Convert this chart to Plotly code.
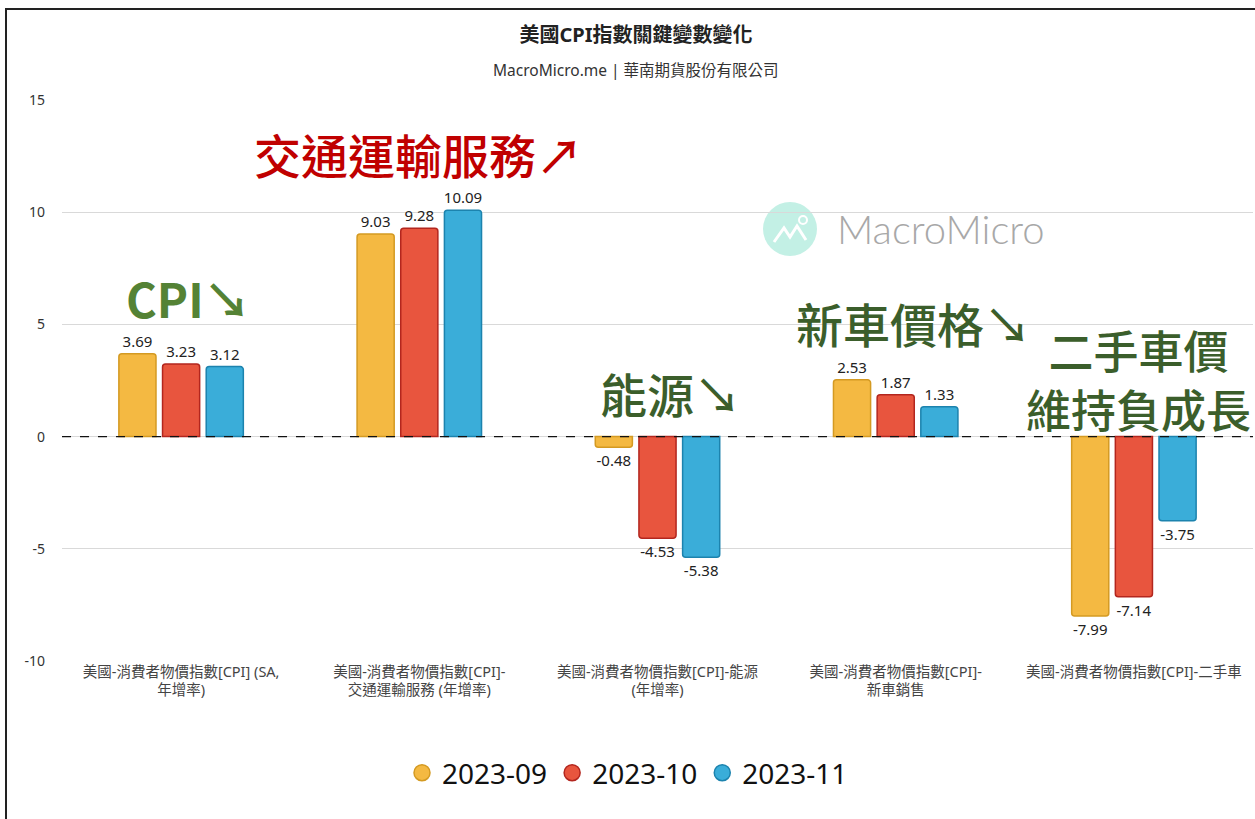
import plotly.graph_objects as go

categories = [
    "美國-消費者物價指數[CPI] (SA,<br>年增率)",
    "美國-消費者物價指數[CPI]-<br>交通運輸服務 (年增率)",
    "美國-消費者物價指數[CPI]-能源<br>(年增率)",
    "美國-消費者物價指數[CPI]-<br>新車銷售",
    "美國-消費者物價指數[CPI]-二手車",
]
series_names = ["2023-09", "2023-10", "2023-11"]
v_2023_09 = [3.69, 9.03, -0.48, 2.53, -7.99]
v_2023_10 = [3.23, 9.28, -4.53, 1.87, -7.14]
v_2023_11 = [3.12, 10.09, -5.38, 1.33, -3.75]
y_ticks = [-10, -5, 0, 5, 10, 15]
y_tick_labels = ["-10", "-5", "0", "5", "10", "15"]

fills = ["#F4B942", "#E8553E", "#3AADD9"]
edges = ["#D49A22", "#B3261E", "#1C83AE"]

W, H = 1255, 819
ML, MR, MT, MB = 62, 2, 100, 158
PW, PH = W - ML - MR, H - MT - MB

def px2paper_x(px):
    return (px - ML) / PW

def px2paper_y(py):
    return (H - MB - py) / PH

FONT = "Noto Sans, Noto Sans CJK TC, sans-serif"
CJK = "Noto Sans CJK TC, Noto Sans, sans-serif"

fig = go.Figure()
xs = list(range(len(categories)))
for name, vals, fc, ec in zip(series_names, [v_2023_09, v_2023_10, v_2023_11], fills, edges):
    fig.add_trace(go.Bar(
        x=xs, y=vals, name=name, showlegend=False,
        marker=dict(color=fc, line=dict(color=ec, width=1.5)),
        text=[f"{v:.2f}" for v in vals], textposition="outside",
        textfont=dict(size=15, color="#222", family=FONT),
        constraintext="none", cliponaxis=False,
    ))
for name, fc, ec in zip(series_names, fills, edges):
    fig.add_trace(go.Scatter(
        x=[None], y=[None], mode="markers", name=name,
        marker=dict(symbol="circle", size=24, color=fc, line=dict(color=ec, width=1.5)),
    ))

shapes = [
    dict(type="line", xref="paper", yref="y", x0=0, x1=1, y0=0, y1=0,
         line=dict(color="#111", width=1.2, dash="dash"), layer="above"),
    dict(type="rect", xref="paper", yref="paper",
         x0=px2paper_x(6), x1=px2paper_x(W + 20), y0=px2paper_y(H + 20), y1=px2paper_y(9),
         line=dict(color="#222", width=2), layer="above"),
    dict(type="circle", xref="paper", yref="paper",
         x0=px2paper_x(763), x1=px2paper_x(817), y0=px2paper_y(256), y1=px2paper_y(202),
         fillcolor="#C3F0E5", line=dict(width=0), layer="below"),
    dict(type="path", xref="paper", yref="paper",
         path="M {} {} L {} {} L {} {} L {} {} L {} {}".format(
             px2paper_x(774), px2paper_y(242), px2paper_x(784), px2paper_y(228),
             px2paper_x(790), px2paper_y(237), px2paper_x(797), px2paper_y(226),
             px2paper_x(806), px2paper_y(240)),
         line=dict(color="white", width=3), layer="below"),
    dict(type="circle", xref="paper", yref="paper",
         x0=px2paper_x(799), x1=px2paper_x(807), y0=px2paper_y(224), y1=px2paper_y(216),
         line=dict(color="white", width=2), layer="below"),
]

def ann(text, px, py, size, color, family=CJK, weight="normal"):
    return dict(text=text, xref="paper", yref="paper",
                x=px2paper_x(px), y=px2paper_y(py), xanchor="center", yanchor="middle",
                align="center", showarrow=False,
                font=dict(size=size, color=color, family=family, weight=weight))

annotations = [
    ann("MacroMicro.me | 華南期貨股份有限公司", 636, 70, 15.5, "#333", FONT),
    ann("MacroMicro", 941, 229, 40, "#A8A8A8", "Lato", 300),
    ann("CPI↘", 188, 297, 47, "#548235", CJK, "bold"),
    ann("交通運輸服務↗", 418, 153, 47, "#C00000", CJK, 500),
    ann("能源↘", 670, 393, 47, "#3B5E2B", CJK, 500),
    ann("新車價格↘", 913, 322, 47, "#3B5E2B", CJK, 500),
    ann("二手車價<br>維持負成長", 1138, 379, 45, "#3B5E2B", CJK, 500),
]

fig.update_layout(
    width=W, height=H,
    margin=dict(l=ML, r=MR, t=MT, b=MB),
    paper_bgcolor="white", plot_bgcolor="white",
    title=dict(text="<b>美國CPI指數關鍵變數變化</b>", x=636 / W, xanchor="center",
               y=1 - 35 / H, yanchor="middle", xref="container", yref="container",
               font=dict(size=20, color="#222", family=FONT)),
    barmode="group", bargap=0.45, bargroupgap=0.15, barcornerradius=3,
    font=dict(family=FONT, color="#333"),
    xaxis=dict(tickmode="array", tickvals=xs, ticktext=categories,
               range=[-0.5, len(categories) - 0.5],
               showgrid=False, zeroline=False, showline=False,
               tickfont=dict(size=14.5, color="#444", family=FONT), ticks=""),
    yaxis=dict(range=[-10, 15], tickmode="array", tickvals=y_ticks, ticktext=y_tick_labels,
               showgrid=True, gridcolor="#D9D9D9",
               gridwidth=1, zeroline=False, showline=False, ticks="",
               tickfont=dict(size=14, color="#333", family=FONT), ticklabelstandoff=16),
    legend=dict(orientation="h", xref="container", yref="container",
                x=0.5, xanchor="center", y=1 - 773 / H, yanchor="middle",
                font=dict(size=28, color="#111", family=FONT), itemsizing="trace",
                itemwidth=30, tracegroupgap=0),
    shapes=shapes, annotations=annotations,
)

fig.write_html("out.html", config={"displayModeBar": False},
               post_script="document.body.style.margin='0';")
